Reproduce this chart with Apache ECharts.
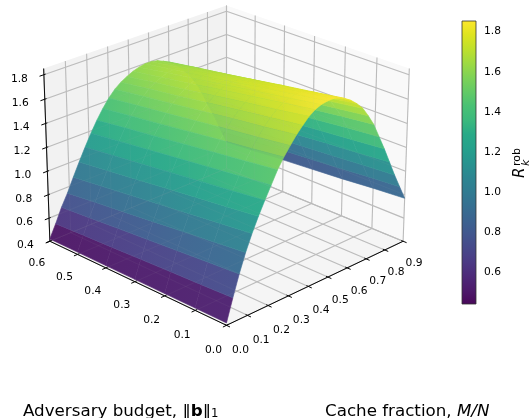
<!DOCTYPE html>
<html>
<head>
<meta charset="utf-8">
<style>html,body{margin:0;padding:0;background:#fff}#chart{width:531px;height:418px}</style>
<script src="https://cdn.jsdelivr.net/npm/echarts@6/dist/echarts.min.js"></script>
</head>
<body>
<div id="chart"></div>
<script>
// axis ticks
const cacheTicks = [0, 0.1, 0.2, 0.3, 0.4, 0.5, 0.6, 0.7, 0.8, 0.9];
const budgetTicks = [0, 0.1, 0.2, 0.3, 0.4, 0.5, 0.6];
const rateTicks = [0.4, 0.6, 0.8, 1.0, 1.2, 1.4, 1.6, 1.8];
const colorbarTicks = [0.6, 0.8, 1.0, 1.2, 1.4, 1.6, 1.8];

// surface grid
const cacheGrid = [0, 0.03, 0.06, 0.09, 0.12, 0.15, 0.18, 0.21, 0.24, 0.27, 0.3, 0.33, 0.36, 0.39, 0.42, 0.45,
  0.48, 0.51, 0.54, 0.57, 0.6, 0.63, 0.66, 0.69, 0.72, 0.75, 0.78, 0.81, 0.84, 0.87, 0.9];
const budgetGrid = [0, 0.1, 0.2, 0.3, 0.4, 0.5, 0.6];
const rateB00 = [0.42, 0.6, 0.77, 0.92, 1.05, 1.165, 1.27, 1.37, 1.47, 1.55, 1.62, 1.685, 1.74, 1.79, 1.825, 1.845,
  1.853, 1.853, 1.838, 1.815, 1.78, 1.735, 1.68, 1.6, 1.51, 1.39, 1.27, 1.14, 1.01, 0.89, 0.77];
const rateB01 = [0.42, 0.588, 0.75, 0.891, 1.019, 1.133, 1.238, 1.338, 1.436, 1.516, 1.586, 1.649, 1.702, 1.748, 1.782, 1.801,
  1.81, 1.81, 1.795, 1.773, 1.74, 1.695, 1.64, 1.565, 1.48, 1.365, 1.245, 1.115, 0.99, 0.87, 0.75];
const rateB02 = [0.42, 0.577, 0.73, 0.864, 0.989, 1.102, 1.207, 1.307, 1.404, 1.484, 1.554, 1.616, 1.666, 1.709, 1.741, 1.76,
  1.769, 1.769, 1.755, 1.733, 1.7, 1.655, 1.6, 1.53, 1.445, 1.335, 1.22, 1.095, 0.97, 0.845, 0.725];
const rateB03 = [0.42, 0.565, 0.71, 0.835, 0.958, 1.07, 1.175, 1.275, 1.37, 1.45, 1.52, 1.58, 1.628, 1.668, 1.698, 1.716,
  1.725, 1.725, 1.712, 1.69, 1.66, 1.62, 1.565, 1.495, 1.415, 1.31, 1.195, 1.07, 0.95, 0.825, 0.705];
const rateB04 = [0.42, 0.553, 0.69, 0.806, 0.926, 1.038, 1.143, 1.243, 1.336, 1.416, 1.486, 1.544, 1.589, 1.626, 1.654, 1.672,
  1.681, 1.681, 1.67, 1.648, 1.619, 1.58, 1.53, 1.46, 1.385, 1.285, 1.17, 1.045, 0.93, 0.805, 0.685];
const rateB05 = [0.42, 0.542, 0.67, 0.779, 0.896, 1.007, 1.112, 1.212, 1.304, 1.384, 1.454, 1.511, 1.553, 1.587, 1.613, 1.631,
  1.641, 1.641, 1.63, 1.608, 1.581, 1.54, 1.49, 1.425, 1.35, 1.255, 1.145, 1.025, 0.91, 0.78, 0.66];
const rateB06 = [0.42, 0.53, 0.65, 0.75, 0.865, 0.975, 1.08, 1.18, 1.27, 1.35, 1.42, 1.475, 1.515, 1.545, 1.57, 1.587,
  1.597, 1.597, 1.587, 1.565, 1.54, 1.5, 1.45, 1.39, 1.32, 1.23, 1.12, 1.0, 0.89, 0.76, 0.64];
const rateRows = [rateB00, rateB01, rateB02, rateB03, rateB04, rateB05, rateB06];

const viridis = ['#440154', '#481467', '#482475', '#463480', '#414487', '#3b528b', '#355f8d', '#2f6c8e', '#2a788e', '#26828e', '#21918c',
  '#1f9e89', '#22a884', '#35b779', '#44bf70', '#5ec962', '#7ad151', '#9bd93c', '#bddf26', '#dde318', '#fde725'];

const M_MAX = 0.9, B_MAX = 0.6, Z_MIN = 0.4, Z_MAX = 1.85;
const C_MIN = 0.443, C_MAX = 1.853;
// facet colours in the reference sit a bit brighter than their height gives
const SURFACE_GAMMA = 0.88;

// same camera as mplot3d: elev 24, azim 225, dist 10
const elev = 24 * Math.PI / 180;
const sE = Math.sin(elev), cE = Math.cos(elev), h = Math.SQRT1_2;
const boxX = 1.143, boxY = 1.143, boxZ = 0.85;
const scale = 2223, cx = 226.5, cy = 156.4;

function rel(m, b, z) {
  return [boxX * (m / M_MAX - 0.5), boxY * (b / B_MAX - 0.5), boxZ * ((z - Z_MIN) / (Z_MAX - Z_MIN) - 0.5)];
}
function depth(m, b, z) {
  const p = rel(m, b, z);
  return 10 + h * cE * (p[0] + p[1]) - sE * p[2];
}
function project(m, b, z) {
  const p = rel(m, b, z);
  const d = depth(m, b, z);
  const u = h * (p[0] - p[1]);
  const v = sE * h * (p[0] + p[1]) + cE * p[2];
  return [cx + scale * u / d, cy - scale * v / d];
}

function hexRgb(c) {
  return [parseInt(c.slice(1, 3), 16), parseInt(c.slice(3, 5), 16), parseInt(c.slice(5, 7), 16)];
}
// surface alpha was about 0.9, so the opaque facets get it baked in
function colorOf(z, alpha, gamma) {
  const n = Math.min(1, Math.max(0, (z - C_MIN) / (C_MAX - C_MIN)));
  const t = Math.pow(n, gamma || 1) * (viridis.length - 1);
  const i = Math.min(viridis.length - 2, Math.floor(t));
  const a = hexRgb(viridis[i]), b = hexRgb(viridis[i + 1]), f = t - i;
  return `rgb(${a.map((v, k) => Math.round((v + (b[k] - v) * f) * alpha + 247 * (1 - alpha))).join(',')})`;
}

// facets far to near, like plot_surface does
const cells = [];
for (let j = 0; j < budgetGrid.length - 1; j++) {
  for (let i = 0; i < cacheGrid.length - 1; i++) {
    const corners = [[i, j], [i + 1, j], [i + 1, j + 1], [i, j + 1]].map(c => [cacheGrid[c[0]], budgetGrid[c[1]], rateRows[c[1]][c[0]]]);
    const zMean = corners.reduce((s, c) => s + c[2], 0) / 4;
    const dMean = corners.reduce((s, c) => s + depth(c[0], c[1], c[2]), 0) / 4;
    cells.push({ corners, zMean, dMean });
  }
}
cells.sort((a, b) => b.dMean - a.dMean);
// far side of the ridge shows faintly through the near side
const farCells = cells.filter(c => c.corners[0][0] >= 0.48);

const panes = [
  { fill: '#f2f2f2', pts: [[0, B_MAX, Z_MIN], [M_MAX, B_MAX, Z_MIN], [M_MAX, B_MAX, Z_MAX], [0, B_MAX, Z_MAX]] },
  { fill: '#f9f9f9', pts: [[M_MAX, 0, Z_MIN], [M_MAX, B_MAX, Z_MIN], [M_MAX, B_MAX, Z_MAX], [M_MAX, 0, Z_MAX]] },
  { fill: '#f5f5f5', pts: [[0, 0, Z_MIN], [M_MAX, 0, Z_MIN], [M_MAX, B_MAX, Z_MIN], [0, B_MAX, Z_MIN]] }
];

const gridSegs = [];
cacheTicks.forEach(m => {
  gridSegs.push([[m, 0, Z_MIN], [m, B_MAX, Z_MIN]], [[m, B_MAX, Z_MIN], [m, B_MAX, Z_MAX]]);
});
budgetTicks.forEach(b => {
  gridSegs.push([[0, b, Z_MIN], [M_MAX, b, Z_MIN]], [[M_MAX, b, Z_MIN], [M_MAX, b, Z_MAX]]);
});
rateTicks.forEach(z => {
  gridSegs.push([[0, B_MAX, z], [M_MAX, B_MAX, z]], [[M_MAX, 0, z], [M_MAX, B_MAX, z]]);
});

const axisSegs = [
  [[0, 0, Z_MIN], [M_MAX, 0, Z_MIN]],
  [[0, 0, Z_MIN], [0, B_MAX, Z_MIN]],
  [[0, B_MAX, Z_MIN], [0, B_MAX, Z_MAX]]
];
cacheTicks.forEach(m => axisSegs.push([[m, -0.011, Z_MIN], [m, 0.006, Z_MIN]]));
budgetTicks.forEach(b => axisSegs.push([[-0.017, b, Z_MIN], [0.009, b, Z_MIN]]));
rateTicks.forEach(z => axisSegs.push([[-0.02, B_MAX, z], [0.008, B_MAX, z]]));

const tickLabels = [];
cacheTicks.forEach(m => tickLabels.push({ at: [m, 0, Z_MIN], text: m.toFixed(1), dx: 14 - 3 * m / M_MAX, dy: 25 - 3 * m / M_MAX }));
budgetTicks.forEach(b => tickLabels.push({ at: [0, b, Z_MIN], text: b.toFixed(1), dx: -13, dy: 25 - 3 * b / B_MAX }));
rateTicks.forEach(z => tickLabels.push({ at: [0, B_MAX, z], text: z.toFixed(1), dx: -24.5, dy: 4 }));

const pt = (api, p) => api.coord(project(p[0], p[1], p[2]));
const plain = { xAxisIndex: 0, yAxisIndex: 0, silent: true };

function gridLine(params, api, alpha) {
  const s = gridSegs[api.value(0)];
  return { type: 'polyline', shape: { points: s.map(q => pt(api, q)) }, style: { stroke: '#bcbcbc', lineWidth: 1.1, fill: 'none', opacity: alpha } };
}

// colour runs along the budget direction inside a facet, steps only along cache fraction
function facetFill(c, pts) {
  const x0 = (pts[0][0] + pts[1][0]) / 2, y0 = (pts[0][1] + pts[1][1]) / 2;
  const x1 = (pts[2][0] + pts[3][0]) / 2, y1 = (pts[2][1] + pts[3][1]) / 2;
  return new echarts.graphic.LinearGradient(x0, y0, x1, y1, [
    { offset: 0, color: colorOf((c.corners[0][2] + c.corners[1][2]) / 2, 0.93, SURFACE_GAMMA) },
    { offset: 1, color: colorOf((c.corners[2][2] + c.corners[3][2]) / 2, 0.93, SURFACE_GAMMA) }
  ], true);
}

const option = {
  animation: false,
  backgroundColor: '#fff',
  textStyle: { fontFamily: 'DejaVu Sans' },
  grid: [
    { left: 0, top: 0, width: 531, height: 418 },
    { left: 462, top: 21, width: 14, height: 283 }
  ],
  xAxis: [
    { type: 'value', min: 0, max: 531, show: false, gridIndex: 0 },
    { type: 'value', min: 0, max: 1, show: false, gridIndex: 1 }
  ],
  yAxis: [
    { type: 'value', min: 0, max: 418, inverse: true, show: false, gridIndex: 0 },
    {
      type: 'value', min: C_MIN, max: C_MAX, position: 'right', gridIndex: 1,
      axisLine: { show: false },
      splitLine: { show: false },
      axisTick: { show: true, length: 4, customValues: colorbarTicks, lineStyle: { color: '#000', width: 0.8 } },
      axisLabel: {
        show: true, customValues: colorbarTicks, margin: 8, color: '#000', fontSize: 10.7,
        fontFamily: 'DejaVu Sans', formatter: v => v.toFixed(1)
      }
    }
  ],
  series: [
    {
      ...plain, type: 'custom', name: 'panes', data: panes.map((_, i) => i), z: 1,
      renderItem: (params, api) => {
        const p = panes[api.value(0)];
        return { type: 'polygon', shape: { points: p.pts.map(q => pt(api, q)) }, style: { fill: p.fill } };
      }
    },
    {
      ...plain, type: 'custom', name: 'grid', data: gridSegs.map((_, i) => i), z: 2,
      renderItem: (params, api) => gridLine(params, api, 1)
    },
    {
      ...plain, type: 'custom', name: 'axes', data: axisSegs.map((_, i) => i), z: 3,
      renderItem: (params, api) => {
        const s = axisSegs[api.value(0)];
        return { type: 'polyline', shape: { points: s.map(q => pt(api, q)) }, style: { stroke: '#000', lineWidth: 1, fill: 'none' } };
      }
    },
    {
      ...plain, type: 'custom', name: 'surface', data: cells.map((_, i) => i), z: 4,
      renderItem: (params, api) => {
        const c = cells[api.value(0)];
        const pts = c.corners.map(q => pt(api, q));
        const fill = facetFill(c, pts);
        return { type: 'polygon', shape: { points: pts }, style: { fill, stroke: fill, lineWidth: 0.6 } };
      }
    },
    {
      ...plain, type: 'custom', name: 'surfaceFar', data: farCells.map((_, i) => i), z: 5,
      renderItem: (params, api) => {
        const c = farCells[api.value(0)];
        return {
          type: 'polygon', shape: { points: c.corners.map(q => pt(api, q)) },
          style: { fill: colorOf(c.zMean, 0.93, SURFACE_GAMMA), opacity: 0.07 }
        };
      }
    },
    {
      ...plain, type: 'custom', name: 'gridThrough', data: gridSegs.map((_, i) => i), z: 6,
      renderItem: (params, api) => gridLine(params, api, 0.06)
    },
    {
      ...plain, type: 'custom', name: 'tickLabels', data: tickLabels.map((_, i) => i), z: 7,
      renderItem: (params, api) => {
        const l = tickLabels[api.value(0)];
        const p = pt(api, l.at);
        return {
          type: 'text', x: p[0] + l.dx, y: p[1] + l.dy,
          style: { text: l.text, fill: '#000', font: '10.7px "DejaVu Sans"', textAlign: 'center', textVerticalAlign: 'middle' }
        };
      }
    },
    {
      type: 'custom', name: 'colorbar', xAxisIndex: 1, yAxisIndex: 1, silent: true, z: 2,
      data: [[0]],
      renderItem: (params, api) => {
        const a = api.coord([0, C_MIN]), b = api.coord([1, C_MAX]);
        const stops = viridis.map((c, i) => ({
          offset: i / (viridis.length - 1),
          color: colorOf(C_MIN + (C_MAX - C_MIN) * i / (viridis.length - 1), 0.97)
        }));
        return {
          type: 'rect', shape: { x: a[0], y: b[1], width: b[0] - a[0], height: a[1] - b[1] },
          style: { fill: new echarts.graphic.LinearGradient(0, 1, 0, 0, stops), stroke: '#333', lineWidth: 0.8 }
        };
      }
    }
  ],
  graphic: [
    {
      type: 'text', left: 23, top: 403,
      style: {
        text: '{t|Adversary budget, ‖}{b|b}{t|‖}{s|1}',
        rich: {
          t: { fontFamily: 'DejaVu Sans', fontSize: 16.7, fill: '#000' },
          b: { fontFamily: 'DejaVu Sans', fontWeight: 'bold', fontSize: 16.7, fill: '#000' },
          s: { fontFamily: 'DejaVu Sans', fontSize: 11.7, fill: '#000', verticalAlign: 'bottom' }
        }
      }
    },
    {
      type: 'text', left: 325, top: 403,
      style: {
        text: '{t|Cache fraction, }{i|M/N}',
        rich: {
          t: { fontFamily: 'DejaVu Sans', fontSize: 16.7, fill: '#000' },
          i: { fontFamily: 'DejaVu Sans', fontStyle: 'italic', fontSize: 16.7, fill: '#000' }
        }
      }
    },
    { type: 'text', x: 528, y: 178, rotation: Math.PI / 2, style: { text: 'R', fill: '#000', font: 'italic 15px "DejaVu Sans"', textVerticalAlign: 'bottom' } },
    { type: 'text', x: 523, y: 166, rotation: Math.PI / 2, style: { text: 'rob', fill: '#000', font: '11px "DejaVu Sans"', textVerticalAlign: 'bottom' } },
    { type: 'text', x: 532, y: 166, rotation: Math.PI / 2, style: { text: 'k', fill: '#000', font: 'italic 11px "DejaVu Sans"', textVerticalAlign: 'bottom' } }
  ]
};

const chart = echarts.init(document.getElementById('chart'), null, { renderer: 'canvas' });
chart.setOption(option);
</script>
</body>
</html>
